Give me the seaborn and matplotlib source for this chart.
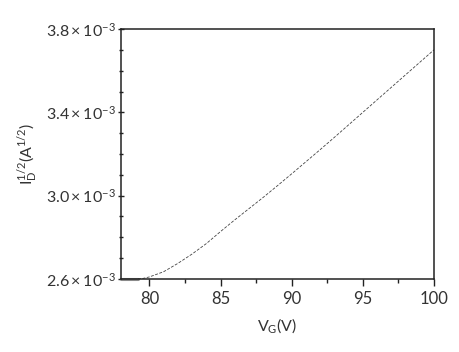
import numpy as np
import pandas as pd
import matplotlib
matplotlib.use("Agg")
import matplotlib.pyplot as plt
import seaborn as sns
from matplotlib.ticker import MultipleLocator, FixedLocator

# Data
vg_flat = [78.0, 79.2]
id_flat = [2.602e-3, 2.602e-3]
vg = [79.2, 79.5, 80, 81, 82, 83, 84, 85, 86, 87, 88, 89, 90, 91, 92, 93, 94, 95, 96, 97, 98, 99, 100]
id_sqrt = [2.600e-3, 2.602e-3, 2.610e-3, 2.635e-3, 2.675e-3, 2.720e-3, 2.770e-3, 2.828e-3,
           2.884e-3, 2.938e-3, 2.992e-3, 3.048e-3, 3.105e-3, 3.163e-3, 3.221e-3, 3.280e-3,
           3.340e-3, 3.400e-3, 3.460e-3, 3.520e-3, 3.580e-3, 3.640e-3, 3.700e-3]
y_ticks = [2.6e-3, 3.0e-3, 3.4e-3, 3.8e-3]
y_tick_labels = [r'$2.6\times10^{\mathdefault{-3}}$', r'$3.0\times10^{\mathdefault{-3}}$',
                 r'$3.4\times10^{\mathdefault{-3}}$', r'$3.8\times10^{\mathdefault{-3}}$']
x_ticks = [80, 85, 90, 95, 100]

sns.set_style("white")
plt.rcParams['font.family'] = ['Lato', 'DejaVu Sans']
plt.rcParams['mathtext.fontset'] = 'custom'
plt.rcParams['mathtext.rm'] = 'Lato'
plt.rcParams['mathtext.it'] = 'Lato'
plt.rcParams['mathtext.default'] = 'regular'

fig = plt.figure(figsize=(4.59, 3.52), dpi=100)
ax = fig.add_axes([0.2636, 0.2074, 0.9455 - 0.2636, 0.9176 - 0.2074])

df_flat = pd.DataFrame({'VG': vg_flat, 'ID': id_flat})
df = pd.DataFrame({'VG': vg, 'ID': id_sqrt})
sns.lineplot(data=df_flat, x='VG', y='ID', ax=ax, color='#8a8a8a', linewidth=2.2, clip_on=False)
sns.lineplot(data=df, x='VG', y='ID', ax=ax, color='#444444', linewidth=0.6,
             linestyle=(0, (3.5, 1.8)))

ax.set_xlim(78, 100)
ax.set_ylim(2.6e-3, 3.8e-3)
ax.xaxis.set_major_locator(FixedLocator(x_ticks))
ax.xaxis.set_minor_locator(MultipleLocator(2.5))
ax.yaxis.set_major_locator(FixedLocator(y_ticks))
ax.set_yticklabels(y_tick_labels)
ax.yaxis.set_minor_locator(MultipleLocator(0.1e-3))

for s in ax.spines.values():
    s.set_color('#222222')
    s.set_linewidth(1.1)

ax.tick_params(axis='x', which='major', direction='out', length=5, width=1, color='#222222',
               labelsize=12, labelcolor='#333333', pad=4)
ax.tick_params(axis='x', which='minor', direction='out', length=3, width=1, color='#222222')
ax.tick_params(axis='y', which='major', direction='inout', length=4, width=1, color='#222222',
               labelsize=11.5, labelcolor='#333333', pad=2)
ax.tick_params(axis='y', which='minor', direction='inout', length=3, width=1, color='#222222')
ax.tick_params(left=True, bottom=True, which='both')

ax.set_xlabel(r'$V_G$(V)', fontsize=11.5, color='#333333', labelpad=6)
ax.set_ylabel(r'$I_D^{\mathdefault{1/2}}$(A$^{\mathdefault{1/2}}$)', fontsize=11.5, color='#333333', labelpad=4)

fig.savefig('out.png', dpi=100)
